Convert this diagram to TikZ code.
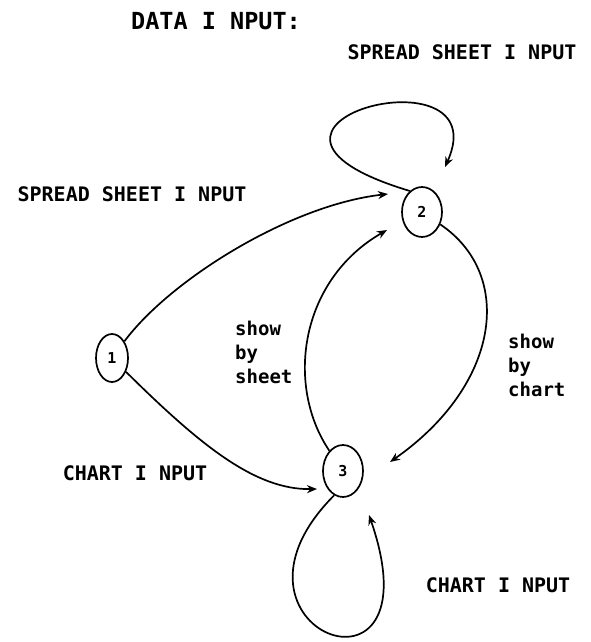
\documentclass[tikz,border=0pt]{standalone}
\usepackage{fontspec}
\usetikzlibrary{shapes.geometric, arrows.meta, positioning}
\newfontfamily\plotfont{DejaVu Sans Mono}

\begin{document}
\begin{tikzpicture}[
    x=1pt, y=-1pt,
    font=\plotfont\bfseries,
    % Define styles
    state/.style = {ellipse, draw, line width=1.7pt, inner sep=0pt, font=\plotfont\bfseries\fontsize{15}{15}\selectfont},
    annot/.style = {inner sep=0pt, font=\plotfont\bfseries\fontsize{20}{20}\selectfont},
    side/.style = {inner sep=0pt, align=left, anchor=north west, font=\plotfont\bfseries\fontsize{19}{24}\selectfont},
    arrow/.style = {line width=1.7pt, -{Stealth[length=10pt, width=8pt]}}
]
\useasboundingbox (0,0) rectangle (591,642);

% Nodes
\node [state, minimum width=32pt, minimum height=48pt] (one) at (112,358) {1};
\node [state, minimum width=40pt, minimum height=50pt] (two) at (422,212) {2};
\node [state, minimum width=40pt, minimum height=52pt] (three) at (343,471) {3};

% Texts
\node [annot, font=\plotfont\bfseries\fontsize{23.5}{23.5}\selectfont] (title) at (216,21) {DATA I NPUT:};
\node [annot] (sheettop) at (462,52) {SPREAD SHEET I NPUT};
\node [annot] (sheetleft) at (132,194) {SPREAD SHEET I NPUT};
\node [annot] (chartleft) at (135,473) {CHART I NPUT};
\node [annot] (chartright) at (498,585) {CHART I NPUT};
\node [side] (bysheet) at (235,321) {show\\by\\sheet};
\node [side] (bychart) at (508,334) {show\\by\\chart};

% Arrow tips
\coordinate (tip12) at (388,194);
\coordinate (tip13) at (317,489);
\coordinate (tip32) at (387,230);
\coordinate (tip23) at (390,462);
\coordinate (tiptwo) at (445,167);
\coordinate (tipthree) at (369,515);

% Arrows
\draw [arrow] (one) .. controls (170,280) and (290,205) .. (tip12);
\draw [arrow] (one) .. controls (200,445) and (255,490) .. (tip13);
\draw [arrow] (three) .. controls (285,385) and (300,280) .. (tip32);
\draw [arrow] (two) .. controls (515,275) and (500,385) .. (tip23);

% Loops
\draw [arrow] (two.120) .. controls (190,125) and (500,45) .. (tiptwo);
\draw [arrow] (three.250) .. controls (200,630) and (440,720) .. (tipthree);

\end{tikzpicture}
\end{document}
